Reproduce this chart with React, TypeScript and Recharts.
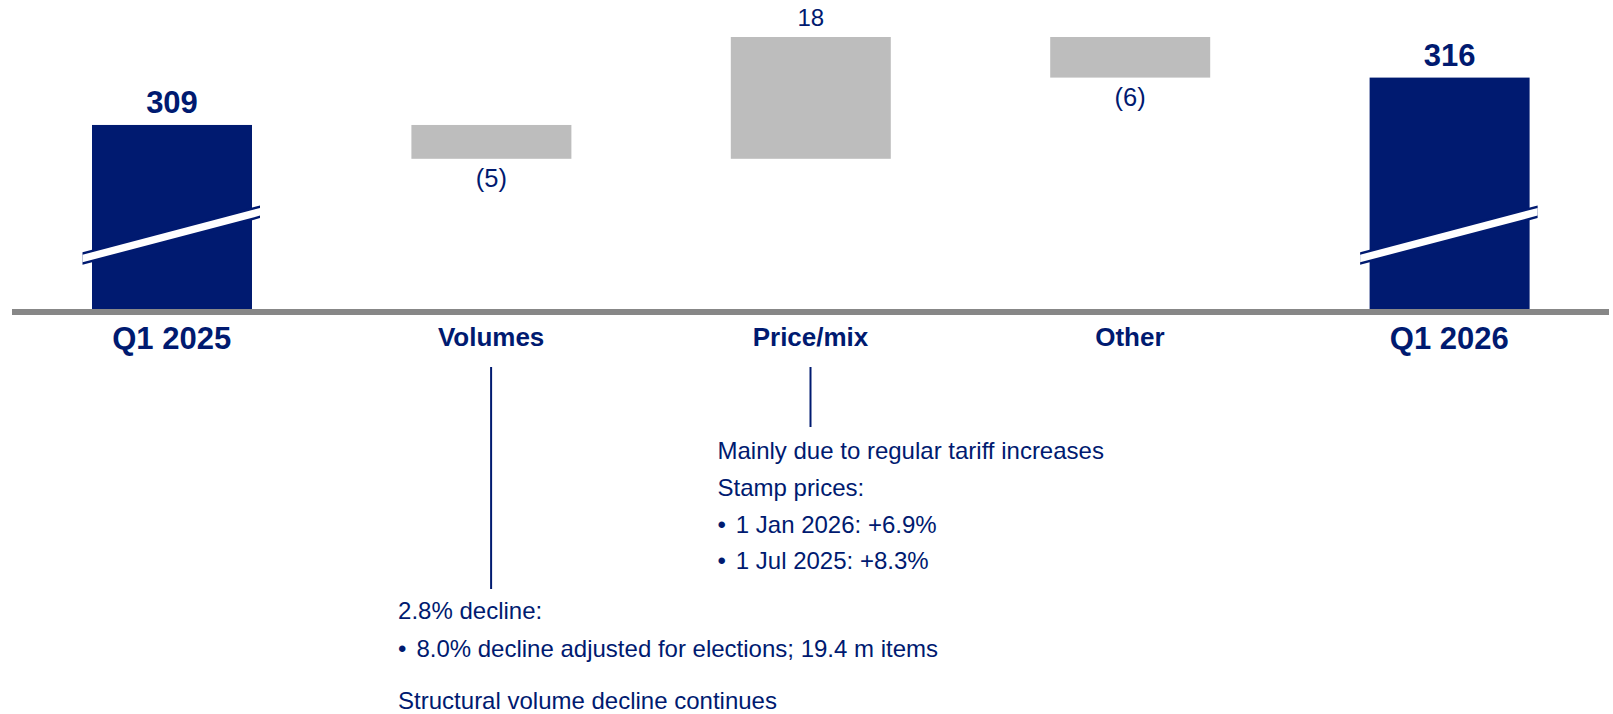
import { BarChart, Bar, XAxis, YAxis, LabelList } from 'recharts';

const categories = ['Q1 2025', 'Volumes', 'Price/mix', 'Other', 'Q1 2026'];
const values = [309, -5, 18, -6, 316];
const isTotal = [true, false, false, false, true];
const valueLabels = ['309', '(5)', '18', '(6)', '316'];

const volumeNotes = ['2.8% decline:', '• 8.0% decline adjusted for elections; 19.4 m items', 'Structural volume decline continues'];
const priceNotes = ['Mainly due to regular tariff increases', 'Stamp prices:', '• 1 Jan 2026: +6.9%', '• 1 Jul 2025: +8.3%'];

const NAVY = '#001a70';
const GREY = '#bdbdbd';
const AXIS = '#878787';
const FONT = '"Liberation Sans", Arial, sans-serif';

// waterfall rows: totals are plain values, steps are [low, high] ranges
let running = 0;
const rows = categories.map((name, i) => {
  const v = values[i];
  if (isTotal[i]) {
    running = v;
    return { name, range: v, total: true, label: valueLabels[i] };
  }
  const start = running;
  running += v;
  return { name, range: [Math.min(start, running), Math.max(start, running)], total: false, label: valueLabels[i] };
});

// annotation layout below the axis (offsets from the axis line)
const noteLayout: Record<string, { lines: string[]; lineEnd: number; baselines: number[] }> = {
  Volumes: { lines: volumeNotes, lineEnd: 280, baselines: [310.3, 347.7, 400] },
  'Price/mix': { lines: priceNotes, lineEnd: 118, baselines: [150.3, 187, 223.7, 260.3] },
};

function BarShape(props: any) {
  const { x, y, width, height, payload } = props;
  const top = Math.min(y, y + height);
  const h = Math.abs(height);
  const bottom = top + h;
  if (!payload.total) return <rect x={x} y={top} width={width} height={h} fill={GREY} />;
  // axis break stripe
  const xl = x - 9.5;
  const xr = x + width + 8;
  const cl = bottom - 50.5;
  const cr = bottom - 97.2;
  const band = (half: number) => `${xl},${cl - half} ${xr},${cr - half} ${xr},${cr + half} ${xl},${cl + half}`;
  return (
    <g>
      <rect x={x} y={top} width={width} height={h} fill={NAVY} />
      <polygon points={band(6.3)} fill={NAVY} />
      <polygon points={band(3.8)} fill="#fff" />
    </g>
  );
}

function ValueLabel(props: any) {
  const { x, y, width, height, value, index } = props;
  const top = Math.min(y, y + height);
  const bottom = Math.max(y, y + height);
  const cx = x + width / 2;
  if (isTotal[index]) {
    return <text x={cx} y={top - 12} textAnchor="middle" fontSize={31} fontWeight="bold" fill={NAVY} fontFamily={FONT}>{value}</text>;
  }
  if (values[index] >= 0) {
    return <text x={cx} y={top - 10.8} textAnchor="middle" fontSize={24} fill={NAVY} fontFamily={FONT}>{value}</text>;
  }
  return <text x={cx} y={bottom + 28.5} textAnchor="middle" fontSize={25.5} fill={NAVY} fontFamily={FONT}>{value}</text>;
}

function CategoryTick(props: any) {
  const { x, y, payload } = props;
  const i = categories.indexOf(payload.value);
  const total = isTotal[i];
  const note = noteLayout[payload.value];
  const x0 = x - 93;
  return (
    <g fontFamily={FONT} fill={NAVY}>
      <text x={x} y={y + (total ? 40 : 36.7)} textAnchor="middle" fontSize={total ? 31 : 26} fontWeight="bold">
        {payload.value}
      </text>
      {note && (
        <>
          <line x1={x} x2={x} y1={y + 58} y2={y + note.lineEnd} stroke={NAVY} strokeWidth={2} />
          {note.lines.map((line, k) =>
            line.startsWith('• ') ? (
              <g key={k} fontSize={24}>
                <text x={x0} y={y + note.baselines[k]}>•</text>
                <text x={x0 + 18.3} y={y + note.baselines[k]}>{line.slice(2)}</text>
              </g>
            ) : (
              <text key={k} x={x0} y={y + note.baselines[k]} fontSize={24}>{line}</text>
            )
          )}
        </>
      )}
    </g>
  );
}

export default function App() {
  return (
    <div style={{ width: 1613, height: 714, background: '#fff' }}>
      <style>{'body{margin:0}'}</style>
      <BarChart width={1613} height={714} data={rows} margin={{ top: 37, right: 4, left: 12, bottom: 365 }} barSize={160}>
        <XAxis
          dataKey="name"
          height={40}
          interval={0}
          tickLine={false}
          tickSize={0}
          tickMargin={0}
          axisLine={{ stroke: AXIS, strokeWidth: 6, transform: 'translate(0 3)' }}
          tick={<CategoryTick />}
        />
        <YAxis hide width={0} domain={[281.8, 322]} allowDataOverflow />
        <Bar dataKey="range" shape={<BarShape />} isAnimationActive={false}>
          <LabelList dataKey="label" content={<ValueLabel />} />
        </Bar>
      </BarChart>
    </div>
  );
}
